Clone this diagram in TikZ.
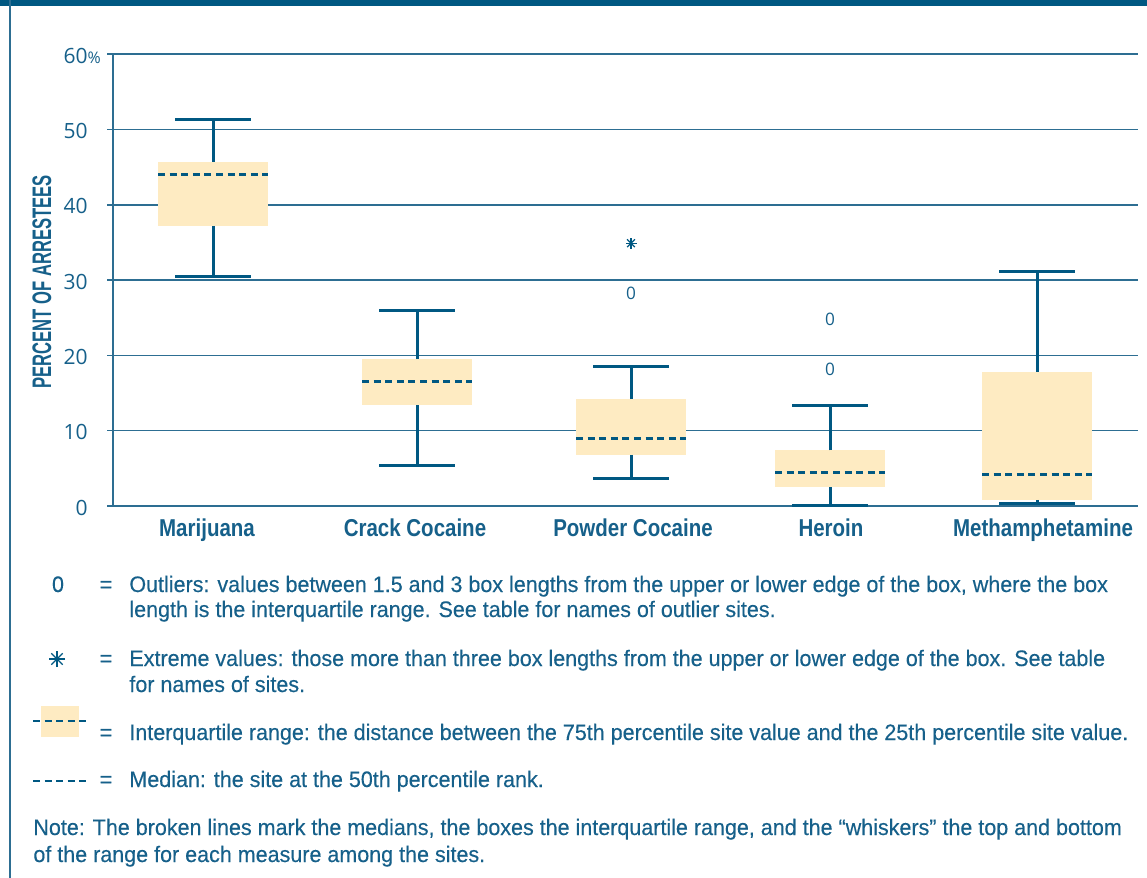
\documentclass[tikz,border=0pt]{standalone}
\usepackage{fontspec}
\setmainfont{Liberation Sans}[FakeStretch=0.96, FakeBold=0.3]
\newfontfamily\labelfont{Liberation Sans}[FakeStretch=0.84]
\newfontfamily\titlefont{Liberation Sans}[FakeStretch=0.62]
\newfontfamily\tickfont{Open Sans}
\definecolor{barblue}{RGB}{0,88,130}
\definecolor{inkblue}{RGB}{0,88,130}
\definecolor{textblue}{RGB}{22,96,138}
\definecolor{gridblue}{RGB}{45,110,146}
\definecolor{iqrfill}{RGB}{254,235,194}

\begin{document}
\begin{tikzpicture}[x=0.5pt, y=-0.5pt,
    grid line/.style={gridblue, line width=0.75pt},
    whisker/.style={inkblue, line width=1.5pt},
    median line/.style={inkblue, line width=1.5pt, dash pattern=on 3.5pt off 2.3pt},
    key dash/.style={inkblue, line width=0.6pt, dash pattern=on 3.5pt off 2.25pt},
    tick label/.style={anchor=east, inner sep=0pt, text=textblue,
                       font=\tickfont\fontsize{10.5}{10.5}\selectfont},
    outlier/.style={inner sep=0pt, text=textblue,
                    font=\tickfont\fontsize{8.6}{9}\selectfont},
    drug/.style={anchor=base, inner sep=0pt, text=textblue,
                 font=\labelfont\bfseries\fontsize{12.2}{12}\selectfont},
    key text/.style={anchor=base west, inner sep=0pt, text=textblue,
                     font=\fontsize{11.2}{12.5}\selectfont},
    key sign/.style={anchor=base, inner sep=0pt, text=textblue,
                     font=\fontsize{11.2}{12.5}\selectfont}]
\useasboundingbox (0,0) rectangle (1147,878);

% frame
\fill[barblue] (0,0) rectangle (1147,6);
\draw[gridblue, line width=0.8pt] (10,0) -- (10,878);

% chart: x in pixels, y in percent
\begin{scope}[shift={(0,506)}, y=3.765pt]
  \foreach \v in {0,10,...,60}
    \draw[grid line] (107,\v) -- (1138,\v);
  \draw[grid line] (113,0) -- (113,60);
  \foreach \v in {0,10,...,50}
    \node[tick label] (tick\v) at (88,\v-0.2) {\v};
  \node[tick label] (tick60) at (88,59.8) {60\rlap{\fontsize{8}{8}\selectfont\%}};

  \foreach \cx/\lo/\qa/\md/\qc/\hi in {213/30.5/37.2/44.0/45.7/51.3,
                                       417/5.4/13.4/16.5/19.5/26.0,
                                       631/3.6/6.8/9.0/14.2/18.5,
                                       830/0.1/2.5/4.5/7.4/13.3,
                                       1037/0.3/0.8/4.25/17.8/31.1} {
    \fill[iqrfill] (\cx-55,\qa) rectangle (\cx+55,\qc);
    \draw[whisker] (\cx,\qc) -- (\cx,\hi) (\cx-38,\hi) -- (\cx+38,\hi);
    \draw[whisker] (\cx,\qa) -- (\cx,\lo) (\cx-38,\lo) -- (\cx+38,\lo);
    \draw[median line] (\cx-55,\md) -- (\cx+55,\md);
  }

  \node[outlier] (pc-out) at (631,28.3) {0};
  \node[outlier] (he-outa) at (830,24.8) {0};
  \node[outlier] (he-outb) at (830,18.2) {0};
  \coordinate (pc-ext) at (631,34.9);
\end{scope}
\foreach \a in {0,45,90,135}
  \draw[inkblue, line width=0.6pt] (pc-ext) ++(\a:5.5) -- ++(\a+180:11);

% categories
\node[drug] (mj) at (207,536) {Marijuana};
\node[drug] (cc) at (415,536) {Crack Cocaine};
\node[drug] (pc) at (633,536) {Powder Cocaine};
\node[drug] (he) at (831,536) {Heroin};
\node[drug] (me) at (1043,536) {Methamphetamine};
\node[rotate=90, inner sep=0pt, text=textblue,
      font=\titlefont\bfseries\fontsize{13.4}{13}\selectfont] (ytitle) at (42,282)
  {PERCENT OF ARRESTEES};

% key
\node[key sign] (k0) at (58,592) {0};
\node[key sign] (k0eq) at (106,592) {=};
\node[key text] (k0a) at (129,592) {Outliers: values between 1.5 and 3 box lengths from the upper or lower edge of the box, where the box};
\node[key text] (k0b) at (129,617) {length is the interquartile range. See table for names of outlier sites.};

\coordinate (kstar) at (57,659);
\foreach \a in {0,45,90,135}
  \draw[inkblue, line width=0.7pt] (kstar) ++(\a:8) -- ++(\a+180:16);
\node[key sign] (k1eq) at (106,666) {=};
\node[key text] (k1a) at (129,666) {Extreme values: those more than three box lengths from the upper or lower edge of the box. See table};
\node[key text] (k1b) at (129,692) {for names of sites.};

\fill[iqrfill] (41,706) rectangle (79,737);
\draw[key dash] (33,721) -- (86,721);
\node[key sign] (k2eq) at (106,740) {=};
\node[key text] (k2a) at (129,740) {Interquartile range: the distance between the 75th percentile site value and the 25th percentile site value.};

\draw[key dash] (33,781) -- (86,781);
\node[key sign] (k3eq) at (106,787) {=};
\node[key text] (k3a) at (129,787) {Median: the site at the 50th percentile rank.};

\node[key text] (note1) at (33,835) {Note: The broken lines mark the medians, the boxes the interquartile range, and the \textquotedblleft whiskers\textquotedblright\ the top and bottom};
\node[key text] (note2) at (33,862) {of the range for each measure among the sites.};
\end{tikzpicture}
\end{document}
